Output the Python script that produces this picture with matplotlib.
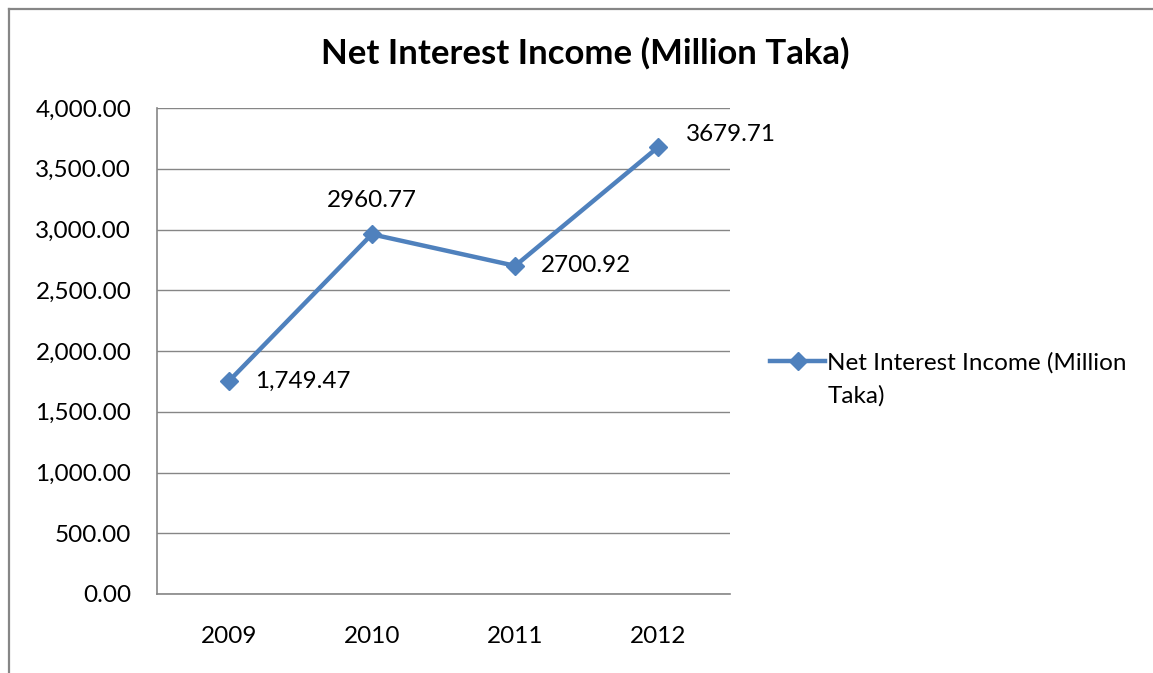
import numpy as np
import matplotlib
matplotlib.use('Agg')
import matplotlib.pyplot as plt
from matplotlib.lines import Line2D

years = ['2009', '2010', '2011', '2012']
income = [1749.47, 2960.77, 2700.92, 3679.71]
point_labels = ['1,749.47', '2960.77', '2700.92', '3679.71']
yticks = [0, 500, 1000, 1500, 2000, 2500, 3000, 3500, 4000]
series_name = ['Net Interest Income (Million', 'Taka)']
title = 'Net Interest Income (Million Taka)'

plt.rcParams['font.family'] = ['Lato', 'DejaVu Sans']
fs = 17.5

W, H = 1153, 673
fig = plt.figure(figsize=(W/100, H/100), dpi=100)

# outer chart border (right/bottom cut off in the original)
bx, by = 8.5/W, 1 - 8.5/H
fig.add_artist(Line2D([bx, bx], [0, by], color='#868686', lw=1.6, transform=fig.transFigure))
fig.add_artist(Line2D([bx, 1], [by, by], color='#868686', lw=1.6, transform=fig.transFigure))

ax = fig.add_axes([157/W, 1 - 594/H, (730-157)/W, (594-108)/H])
x = np.arange(len(years))
line, = ax.plot(x, income, color='#4F81BD', lw=3.2, marker='D', markersize=9.5,
                label=series_name[0], zorder=3)

ax.set_xlim(-0.5, 3.5)
ax.set_ylim(0, 4000)
ax.set_yticks(yticks)
ax.set_yticklabels([format(v, ',.2f') for v in yticks])
ax.set_xticks(x)
ax.set_xticklabels(years)
ax.tick_params(length=0, labelsize=fs)
ax.tick_params(axis='y', pad=18.5)
ax.tick_params(axis='x', pad=23)
ax.grid(axis='y', color='#868686', lw=1)
ax.set_axisbelow(True)
for s in ['top', 'right']:
    ax.spines[s].set_visible(False)
for s in ['left', 'bottom']:
    ax.spines[s].set_color('#868686')
    ax.spines[s].set_linewidth(1.2)

# data labels
offsets = [(26, 0, 'left'), (0, 34, 'center'), (26, 0, 'left'), (28, 12, 'left')]
for i, (dx, dy, ha) in enumerate(offsets):
    ax.annotate(point_labels[i], (x[i], income[i]), xytext=(dx*0.72, dy*0.72),
                textcoords='offset points', ha=ha, va='center', fontsize=fs)

fig.text(585/W, 1 - 53/H, title, ha='center', va='center', fontsize=25, fontweight='bold')

leg = ax.legend(loc='center left', bbox_to_anchor=(770/W, 1 - 363/H), bbox_transform=fig.transFigure,
                frameon=False, fontsize=fs, handlelength=55/(fs*100/72), handletextpad=0.1,
                borderpad=0, borderaxespad=0)
fig.text(828/W, 1 - 396/H, series_name[1], ha='left', va='center', fontsize=fs)

fig.savefig('out.png', dpi=100)
